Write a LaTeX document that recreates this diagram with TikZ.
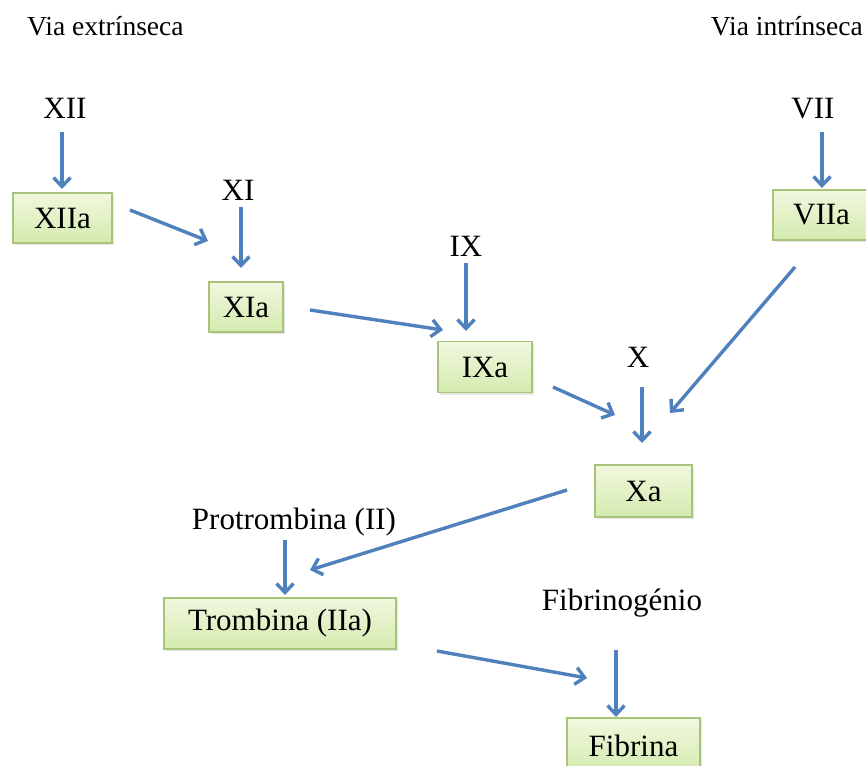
\documentclass[tikz,border=0pt]{standalone}
\usepackage{fontspec}
\setmainfont{Liberation Serif}
\usetikzlibrary{arrows.meta,shadows}
\definecolor{arr}{HTML}{4F81BD}
\definecolor{boxtop}{HTML}{F1F8DF}
\definecolor{boxbot}{HTML}{D4EAAE}
\definecolor{boxline}{HTML}{A8C47A}
\tikzset{
  lbl/.style={font=\fontsize{31}{37}\selectfont, inner sep=0pt, anchor=base},
  via/.style={font=\fontsize{27.5}{33}\selectfont, inner sep=0pt},
  fbox/.style={draw=boxline, line width=1.2pt, top color=boxtop, bottom color=boxbot,
    font=\fontsize{31}{37}\selectfont, inner sep=0pt, anchor=center,
    drop shadow={shadow xshift=1.5pt, shadow yshift=-2pt, opacity=0.25, fill=black!40}},
  flow/.style={draw=arr, line width=3.4pt, -{Straight Barb[length=9pt,width=17pt,line width=3.4pt]}}
}
\begin{document}
\begin{tikzpicture}[x=1pt,y=-1pt]
\useasboundingbox (0,0) rectangle (866,765);
\fill[white] (0,0) rectangle (866,765);
% headings
\node[via, anchor=base west] (vext) at (27,36) {Via extrínseca};
\node[via, anchor=base east] (vint) at (863,36) {Via intrínseca};
% labels
\node[lbl] (XII) at (65,118) {XII};
\node[lbl] (XI) at (238,200) {XI};
\node[lbl] (IX) at (466,256) {IX};
\node[lbl] (X) at (638,367) {X};
\node[lbl] (VII) at (813,118) {VII};
\node[lbl] (PT) at (294,529) {Protrombina (II)};
\node[lbl] (FG) at (622,610) {Fibrinogénio};
% boxes
\node[fbox, minimum width=99pt, minimum height=50pt] (XIIa) at (62.5,218) {XIIa};
\node[fbox, minimum width=74pt, minimum height=50pt] (XIa) at (246,307) {XIa};
\node[fbox, minimum width=94pt, minimum height=51pt] (IXa) at (485,367) {IXa};
\node[fbox, minimum width=97pt, minimum height=52pt] (Xa) at (643.5,491) {Xa};
\node[fbox, minimum width=97pt, minimum height=50pt] (VIIa) at (821.5,215) {VIIa};
\node[fbox, minimum width=232pt, minimum height=51pt] (Tr) at (280,623.5) {Trombina (IIa)};
\node[fbox, minimum width=133pt, minimum height=56pt] (Fb) at (633.5,746) {Fibrina};
% arrow end points
\coordinate (a1s) at (62,132);  \coordinate (a1e) at (62,189);
\coordinate (a2s) at (241,207); \coordinate (a2e) at (241,268);
\coordinate (a3s) at (130,210); \coordinate (a3e) at (208,241);
\coordinate (a4s) at (466,263); \coordinate (a4e) at (466,331);
\coordinate (a5s) at (310,310); \coordinate (a5e) at (443,330);
\coordinate (a6s) at (642,387); \coordinate (a6e) at (642,443);
\coordinate (a7s) at (553,387); \coordinate (a7e) at (615,415);
\coordinate (a8s) at (822,132); \coordinate (a8e) at (822,188);
\coordinate (a9s) at (795,267); \coordinate (a9e) at (670,413);
\coordinate (a10s) at (567,490); \coordinate (a10e) at (310,570);
\coordinate (a11s) at (285,540); \coordinate (a11e) at (285,595);
\coordinate (a12s) at (437,651); \coordinate (a12e) at (587,678);
\coordinate (a13s) at (616,650); \coordinate (a13e) at (616,717);
% arrows
\draw[flow] (a1s) -- (a1e);
\draw[flow] (a2s) -- (a2e);
\draw[flow] (a3s) -- (a3e);
\draw[flow] (a4s) -- (a4e);
\draw[flow] (a5s) -- (a5e);
\draw[flow] (a6s) -- (a6e);
\draw[flow] (a7s) -- (a7e);
\draw[flow] (a8s) -- (a8e);
\draw[flow] (a9s) -- (a9e);
\draw[flow] (a10s) -- (a10e);
\draw[flow] (a11s) -- (a11e);
\draw[flow] (a12s) -- (a12e);
\draw[flow] (a13s) -- (a13e);
\end{tikzpicture}
\end{document}
